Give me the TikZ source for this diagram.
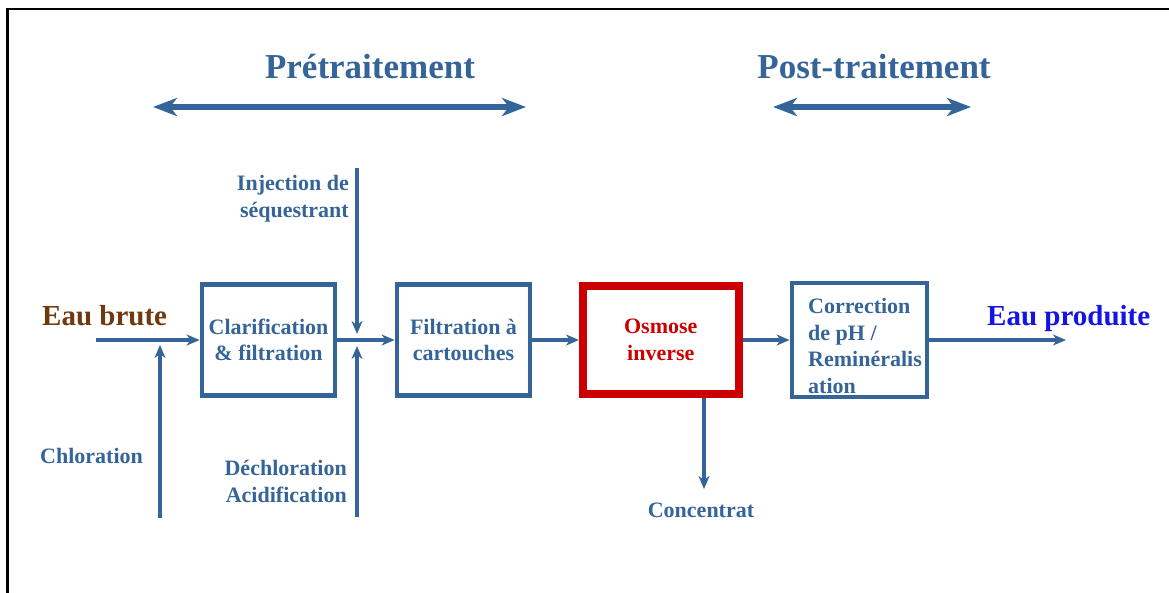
\documentclass[tikz,border=0pt]{standalone}
\usepackage{fontspec}
\setmainfont{Liberation Serif}
\usetikzlibrary{arrows.meta}
\definecolor{flowblue}{RGB}{52,100,152}
\definecolor{osred}{RGB}{204,0,0}
\definecolor{rawbrown}{RGB}{110,58,14}
\definecolor{outblue}{RGB}{20,20,230}
\begin{document}
\begin{tikzpicture}[x=1pt,y=-1pt,
  stagebox/.style={draw=flowblue, line width=4.8pt, minimum width=133pt, minimum height=111pt,
    inner sep=0pt, align=center, text=flowblue, font=\fontsize{22}{26}\selectfont\bfseries},
  redbox/.style={draw=osred, line width=7.5pt, minimum width=156pt, minimum height=108pt,
    inner sep=0pt, align=center, text=osred, font=\fontsize{22}{27}\selectfont\bfseries},
  smalllabel/.style={text=flowblue, inner sep=0pt, font=\fontsize{22}{26.5}\selectfont\bfseries},
  flow/.style={draw=flowblue, line width=3.5pt, -{Stealth[length=13pt,width=11pt,inset=4pt]}},
  phase/.style={draw=flowblue, line width=5.5pt, {Stealth[length=24pt,width=18pt,inset=7pt]}-{Stealth[length=24pt,width=18pt,inset=7pt]}},
  title/.style={text=flowblue, inner sep=0pt, font=\fontsize{35}{40}\selectfont\bfseries},
  endlabel/.style={inner sep=0pt, font=\fontsize{29}{34}\selectfont\bfseries}
]
\useasboundingbox (0,0) rectangle (1169,592);
% frame
\draw[line width=2.5pt, black] (7.5,600) -- (7.5,9) -- (1175,9);

% phase titles and arrows
\node[title, anchor=base] (pre) at (370,78) {Prétraitement};
\node[title, anchor=base] (post) at (874,78) {Post-traitement};
\coordinate (pl) at (153,107);
\coordinate (pr) at (526,107);
\coordinate (ql) at (773,107);
\coordinate (qr) at (971,107);
\draw[phase] (pl) -- (pr);
\draw[phase] (ql) -- (qr);

% boxes
\node[stagebox] (clar) at (268.5,340) {Clarification\\\& filtration};
\node[stagebox] (cart) at (463.5,340) {Filtration à\\cartouches};
\node[redbox] (osm) at (660.75,340) {Osmose\\inverse};
\node[stagebox, minimum width=135pt, minimum height=114pt] (corr) at (859.5,340) {};
\node[smalllabel, anchor=base west, align=left] (corrtxt) at (808,393) {Correction\\de pH /\\Reminéralis\\ation};

% end labels
\node[endlabel, text=rawbrown, anchor=base west] (brute) at (42,325) {Eau brute};
\node[endlabel, text=outblue, anchor=base west] (prod) at (987,325) {Eau produite};

% side labels
\node[smalllabel, anchor=base west] (chl) at (40,463) {Chloration};
\node[smalllabel, anchor=base east, align=right] (inj) at (349,217) {Injection de\\séquestrant};
\node[smalllabel, anchor=base east, align=right] (dech) at (347,502) {Déchloration\\Acidification};
\node[smalllabel, anchor=base] (conc) at (701,517) {Concentrat};

% coordinates
\coordinate (in) at (96,340);
\coordinate (chlbot) at (160,518);
\coordinate (chltip) at (160,345);
\coordinate (injtop) at (357,168);
\coordinate (injtip) at (357,334);
\coordinate (decbot) at (357,517);
\coordinate (dectip) at (357,346);
\coordinate (out) at (1066,340);
\coordinate (conctip) at (704,489);

% flows
\draw[flow] (in) -- (clar.west);
\draw[flow] (chlbot) -- (chltip);
\draw[flow] (injtop) -- (injtip);
\draw[flow] (decbot) -- (dectip);
\draw[flow] (clar.east) -- (cart.west);
\draw[flow] (cart.east) -- (osm.west);
\draw[flow] (osm.east) -- (corr.west);
\draw[flow] (corr.east) -- (out);
\draw[flow] (osm.south -| conctip) -- (conctip);
\end{tikzpicture}
\end{document}
